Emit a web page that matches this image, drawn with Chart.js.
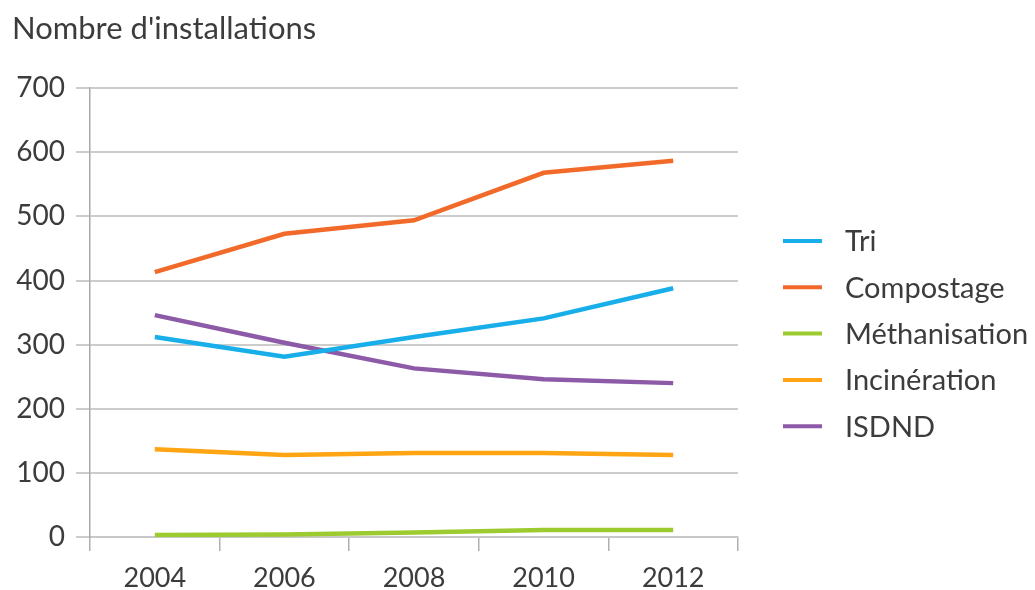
<!DOCTYPE html>
<html>
<head>
<meta charset="utf-8">
<script src="https://cdn.jsdelivr.net/npm/chart.js@4/dist/chart.umd.min.js"></script>
<style>
  html, body { margin: 0; padding: 0; background: #ffffff; }
  #wrap { position: relative; width: 1035px; height: 590px; }
</style>
</head>
<body>
<div id="wrap"><canvas id="c" width="1035" height="590"></canvas></div>
<script>
const categories = ['2004', '2006', '2008', '2010', '2012'];
const tri = [312, 281, 312, 341, 388];
const compostage = [413, 473, 494, 568, 587];
const methanisation = [3, 4, 7, 11, 11];
const incineration = [137, 128, 131, 131, 128];
const isdnd = [346, 303, 263, 246, 240];
const seriesNames = ['Tri', 'Compostage', 'Méthanisation', 'Incinération', 'ISDND'];
const seriesColors = ['#17aeea', '#f26a2a', '#9ccb2f', '#ffa514', '#8d5aa8'];
const yTicks = [0, 100, 200, 300, 400, 500, 600, 700];

const FONT = "Lato, 'Open Sans', sans-serif";
const TEXT = '#3c3c3c';

const seriesData = [tri, compostage, methanisation, incineration, isdnd];

const legendPlugin = {
  id: 'customLegend',
  afterDraw(chart) {
    const ctx = chart.ctx;
    ctx.save();
    ctx.font = '29px ' + FONT;
    ctx.textBaseline = 'middle';
    ctx.textAlign = 'left';
    const top = 241, step = 46.3;
    chart.data.datasets.forEach((ds, i) => {
      const y = top + i * step;
      ctx.strokeStyle = ds.borderColor;
      ctx.lineWidth = 4;
      ctx.beginPath();
      ctx.moveTo(783, y);
      ctx.lineTo(822, y);
      ctx.stroke();
      ctx.fillStyle = TEXT;
      ctx.fillText(ds.label, 845, y + 1);
    });
    ctx.restore();
  }
};

new Chart(document.getElementById('c'), {
  type: 'line',
  data: {
    labels: categories,
    datasets: seriesData.map((d, i) => ({
      label: seriesNames[i],
      data: d,
      borderColor: seriesColors[i],
      backgroundColor: seriesColors[i],
      borderWidth: 4.5,
      pointRadius: 0,
      tension: 0,
      fill: false
    }))
  },
  options: {
    responsive: false,
    animation: false,
    layout: { padding: { left: 12, right: 297, top: 0, bottom: 0 } },
    plugins: {
      legend: { display: false },
      tooltip: { enabled: false },
      title: {
        display: true,
        text: "Nombre d'installations",
        align: 'start',
        color: TEXT,
        font: { family: FONT, size: 31, weight: 'normal' },
        padding: { top: 10, bottom: 41 }
      }
    },
    scales: {
      x: {
        type: 'category',
        offset: true,
        afterFit(scale) { scale.height = 53; },
        grid: {
          display: true,
          offset: true,
          drawOnChartArea: false,
          drawTicks: true,
          tickLength: 14,
          color: '#b0b0b0',
          lineWidth: 1.5
        },
        border: { display: true, color: '#c8c8c8', width: 2 },
        ticks: {
          color: TEXT,
          font: { family: FONT, size: 27 },
          padding: 11,
          maxRotation: 0
        }
      },
      y: {
        min: 0,
        max: 700,
        afterBuildTicks(scale) { scale.ticks = yTicks.map(v => ({ value: v })); },
        afterFit(scale) { scale.width = 78; },
        grid: {
          color: '#cccccc',
          lineWidth: 2,
          tickLength: 14,
          drawTicks: true
        },
        border: { display: true, color: '#a8a8a8', width: 1.5 },
        ticks: {
          color: TEXT,
          font: { family: FONT, size: 28 },
          padding: 11
        }
      }
    }
  },
  plugins: [legendPlugin]
});
</script>
</body>
</html>
